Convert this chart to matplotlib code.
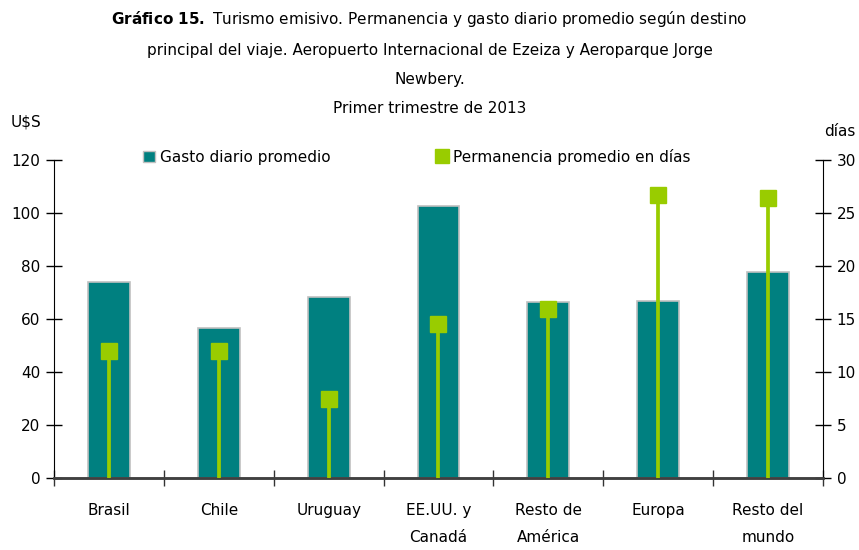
import numpy as np
import matplotlib.pyplot as plt
from matplotlib.patches import Patch
from matplotlib.lines import Line2D

destinos = ['Brasil', 'Chile', 'Uruguay', 'EE.UU. y\nCanadá', 'Resto de\nAmérica',
            'Europa', 'Resto del\nmundo']
gasto = [73.8, 56.7, 68.1, 102.5, 66.3, 66.9, 77.7]
permanencia = [12.0, 12.0, 7.4, 14.5, 15.9, 26.7, 26.4]

teal = '#008080'
verde = '#99cc00'

fig = plt.figure(figsize=(8.59, 5.5), dpi=100)
ax = fig.add_axes([0.0629, 0.1315, 0.8951, 0.5775])
ax2 = ax.twinx()

x = np.arange(len(destinos))
ax.bar(x, gasto, width=0.38, color=teal, edgecolor='#c0c0c0', linewidth=1.2, zorder=2)

ax2.vlines(x, 0, permanencia, color=verde, linewidth=2.7, zorder=3)
ax2.plot(x, permanencia, linestyle='none', marker='s', markersize=11,
         color=verde, zorder=4)

ax.set_xlim(-0.5, len(destinos) - 0.5)
ax.set_ylim(0, 120)
ax2.set_ylim(0, 30)
ax.set_yticks(np.arange(0, 121, 20))
ax2.set_yticks(np.arange(0, 31, 5))

ax.set_xticks(np.arange(-0.5, len(destinos), 1))
ax.set_xticklabels([])
ax.set_xticks(x, minor=True)
ax.set_xticklabels(destinos, minor=True, fontsize=11, linespacing=2.0, va='top')
ax.tick_params(axis='x', which='minor', length=0, pad=18)
ax.tick_params(axis='x', which='major', direction='inout', length=12, width=1, color='#333333')
ax.tick_params(axis='y', direction='inout', length=12, width=1, labelsize=11, pad=4)
ax2.tick_params(axis='y', direction='inout', length=12, width=1, labelsize=11, pad=4)

for a in (ax, ax2):
    a.spines['top'].set_visible(False)
    a.spines['bottom'].set_color('#404040')
    a.spines['bottom'].set_linewidth(1.8)
ax.spines['right'].set_visible(False)
ax2.spines['left'].set_visible(False)

handles = [Patch(facecolor=teal, edgecolor='#c0c0c0', label='Gasto diario promedio'),
           Line2D([], [], linestyle='none', marker='s', markersize=10, color=verde,
                  label='Permanencia promedio en días')]
ax.legend(handles=handles, ncol=2, frameon=False, loc='center left',
          bbox_to_anchor=(0.116, 1.01), borderpad=0, borderaxespad=0,
          handlelength=0.8, handleheight=0.8, handletextpad=0.3,
          columnspacing=6.9, fontsize=11)

fig.text(0.5, 0.965, r'$\bf{Gráfico\ 15.}$ Turismo emisivo. Permanencia y gasto diario promedio según destino',
         ha='center', va='center', fontsize=11)
fig.text(0.5, 0.909, 'principal del viaje. Aeropuerto Internacional de Ezeiza y Aeroparque Jorge',
         ha='center', va='center', fontsize=11)
fig.text(0.5, 0.856, 'Newbery.', ha='center', va='center', fontsize=11)
fig.text(0.5, 0.803, 'Primer trimestre de 2013', ha='center', va='center', fontsize=11)

fig.text(0.012, 0.778, 'U$S', ha='left', va='center', fontsize=11)
fig.text(0.959, 0.76, 'días', ha='left', va='center', fontsize=11)

fig.savefig('out.png', dpi=100)
